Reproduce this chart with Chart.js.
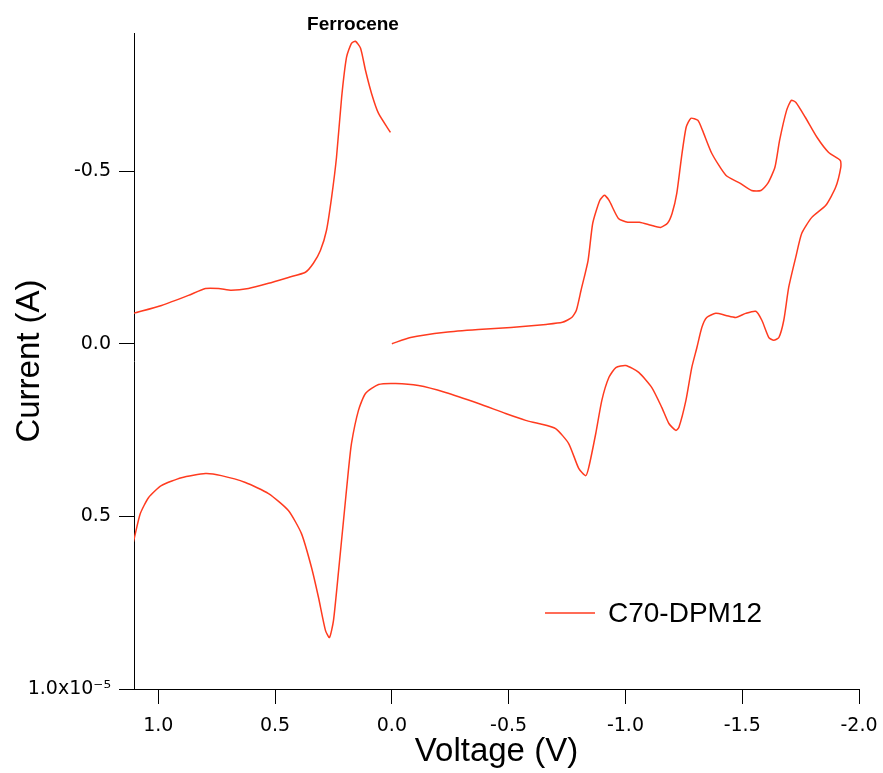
<!DOCTYPE html>
<html>
<head>
<meta charset="utf-8">
<script src="https://cdn.jsdelivr.net/npm/chart.js@4/dist/chart.umd.min.js"></script>
<style>
  html, body { margin: 0; padding: 0; background: #fff; }
  canvas { display: block; }
</style>
</head>
<body>
<canvas id="cv" width="883" height="773"></canvas>
<script>
// Voltammogram C70-DPM12, corriente en unidades de 1e-5 A
// Barrido directo (0 V -> -1.92 V), rama superior C70
const forwardV = [0.00, -0.08, -0.23, -0.37, -0.51, -0.66, -0.73, -0.77, -0.79, -0.81, -0.84, -0.86, -0.89, -0.91,
  -0.93, -0.97, -1.01, -1.06, -1.11, -1.15, -1.18, -1.20, -1.22, -1.24, -1.26, -1.28, -1.31, -1.33, -1.37, -1.43,
  -1.49, -1.54, -1.58, -1.61, -1.64, -1.66, -1.69, -1.71, -1.73, -1.77, -1.82, -1.87, -1.92];
const forwardI = [0.00, -0.018, -0.033, -0.041, -0.047, -0.056, -0.062, -0.076, -0.097, -0.155, -0.241, -0.349, -0.415, -0.430,
  -0.415, -0.363, -0.352, -0.352, -0.343, -0.337, -0.349, -0.378, -0.436, -0.540, -0.627, -0.653, -0.647, -0.618, -0.551, -0.488,
  -0.465, -0.444, -0.444, -0.465, -0.511, -0.589, -0.676, -0.705, -0.699, -0.656, -0.598, -0.554, -0.531];

// Barrido de retorno (-1.92 V -> +1.13 V), rama inferior
const reverseV = [-1.922, -1.90, -1.858, -1.798, -1.755, -1.729, -1.699, -1.678, -1.657, -1.635, -1.614, -1.584, -1.558,
  -1.515, -1.473, -1.430, -1.387, -1.348, -1.327, -1.306, -1.284, -1.259, -1.229, -1.216, -1.186, -1.156, -1.113,
  -1.057, -1.001, -0.959, -0.929, -0.899, -0.873, -0.843, -0.830, -0.800, -0.757, -0.701, -0.628, -0.573, -0.487,
  -0.371, -0.230, -0.114, -0.016, 0.057, 0.113, 0.143, 0.173, 0.186, 0.207, 0.228, 0.250, 0.267, 0.284, 0.314,
  0.344, 0.387, 0.443, 0.528, 0.627, 0.730, 0.798, 0.901, 0.987, 1.042, 1.077, 1.102, 1.13];
const reverseI = [-0.511, -0.453, -0.401, -0.366, -0.320, -0.250, -0.163, -0.068, -0.018, -0.010, -0.018, -0.068, -0.094,
  -0.088, -0.076, -0.082, -0.088, -0.076, -0.047, 0.011, 0.069, 0.164, 0.242, 0.251, 0.231, 0.185, 0.127,
  0.083, 0.063, 0.069, 0.098, 0.164, 0.260, 0.358, 0.382, 0.361, 0.289, 0.246, 0.231, 0.222, 0.202,
  0.173, 0.141, 0.121, 0.115, 0.118, 0.144, 0.193, 0.289, 0.367, 0.512, 0.657, 0.802, 0.851, 0.831, 0.735,
  0.648, 0.550, 0.483, 0.434, 0.402, 0.382, 0.376, 0.388, 0.411, 0.446, 0.492, 0.561, 0.64];

// Rama superior del ferroceno (+1.13 V -> 0 V)
const ferroV = [1.13, 1.106, 0.986, 0.871, 0.798, 0.742, 0.687, 0.614, 0.528, 0.443, 0.370, 0.336, 0.306, 0.280,
  0.258, 0.237, 0.215, 0.194, 0.173, 0.156, 0.134, 0.113, 0.087, 0.057, 0.006];
const ferroI = [-0.083, -0.088, -0.111, -0.140, -0.160, -0.160, -0.155, -0.160, -0.175, -0.192, -0.207, -0.233, -0.270, -0.328,
  -0.424, -0.540, -0.714, -0.830, -0.870, -0.876, -0.856, -0.792, -0.725, -0.667, -0.612];

const xTickValues = [1.0, 0.5, 0.0, -0.5, -1.0, -1.5, -2.0];
const xTickLabels = ['1.0', '0.5', '0.0', '-0.5', '-1.0', '-1.5', '-2.0'];
const yTickValues = [-0.5, 0.0, 0.5, 1.0];
const yTickLabels = ['-0.5', '0.0', '0.5', '1.0x10\u207B\u2075'];

const seriesName = 'C70-DPM12';
const lineColor = '#ff3b1f';

const toPts = (vs, is) => vs.map((v, k) => ({x: v, y: is[k]}));
// corte entre retorno y rama del ferroceno (fuera del eje)
const trace = [...toPts(forwardV, forwardI), ...toPts(reverseV, reverseI), {x: null, y: null}, ...toPts(ferroV, ferroI)];

const tickFont = {family: 'DejaVu Sans', size: 19};
const titleFont = {family: 'Liberation Sans', size: 33};

// leyenda y etiqueta "Ferrocene" dibujadas a mano
const annot = {
  id: 'annot',
  afterDatasetsDraw(chart) {
    const {ctx, chartArea: a} = chart;
    ctx.save();
    ctx.fillStyle = '#000';
    ctx.font = 'bold 19px "Liberation Sans"';
    ctx.textAlign = 'center';
    ctx.textBaseline = 'middle';
    ctx.fillText('Ferrocene', a.left + 219, a.top - 8);
    ctx.strokeStyle = lineColor;
    ctx.lineWidth = 1.5;
    ctx.beginPath();
    ctx.moveTo(a.left + 411, a.top + 580);
    ctx.lineTo(a.left + 461, a.top + 580);
    ctx.stroke();
    ctx.font = '28px "Liberation Sans"';
    ctx.textAlign = 'left';
    ctx.fillText(seriesName, a.left + 474, a.top + 581);
    ctx.restore();
  }
};

new Chart(document.getElementById('cv'), {
  type: 'scatter',
  data: {
    datasets: [{
      label: seriesName,
      data: trace,
      showLine: true,
      spanGaps: false,
      borderColor: lineColor,
      borderWidth: 1.5,
      pointRadius: 0,
      tension: 0.2
    }]
  },
  options: {
    responsive: false,
    animation: false,
    layout: {padding: {top: 33, right: 24, left: 0, bottom: 0}},
    plugins: {legend: {display: false}, tooltip: {enabled: false}},
    scales: {
      x: {
        type: 'linear',
        reverse: true,
        min: -2.0,
        max: 1.104,
        afterBuildTicks: s => { s.ticks = xTickValues.map(v => ({value: v})); },
        afterFit: s => { s.height = 84; s.paddingLeft = 0; s.paddingRight = 0; },
        ticks: {
          font: tickFont, color: '#000', padding: 11, maxRotation: 0, autoSkip: false,
          callback: v => xTickLabels[xTickValues.indexOf(v)]
        },
        grid: {drawOnChartArea: false, tickLength: 15, tickColor: '#000', tickWidth: 1},
        border: {display: true, color: '#000', width: 1},
        title: {display: true, text: 'Voltage (V)', font: titleFont, color: '#000', padding: {top: 0, bottom: 1}}
      },
      y: {
        type: 'linear',
        reverse: true,
        min: -0.9,
        max: 1.0,
        afterBuildTicks: s => { s.ticks = yTickValues.map(v => ({value: v})); },
        afterFit: s => { s.width = 134; s.paddingTop = 0; s.paddingBottom = 0; },
        ticks: {
          font: tickFont, color: '#000', padding: 8, autoSkip: false,
          callback: v => yTickLabels[yTickValues.indexOf(v)]
        },
        grid: {drawOnChartArea: false, tickLength: 15, tickColor: '#000', tickWidth: 1},
        border: {display: true, color: '#000', width: 1},
        title: {display: true, text: 'Current (A)', font: titleFont, color: '#000', padding: {top: 10, bottom: 0}}
      }
    }
  },
  plugins: [annot]
});
</script>
</body>
</html>
